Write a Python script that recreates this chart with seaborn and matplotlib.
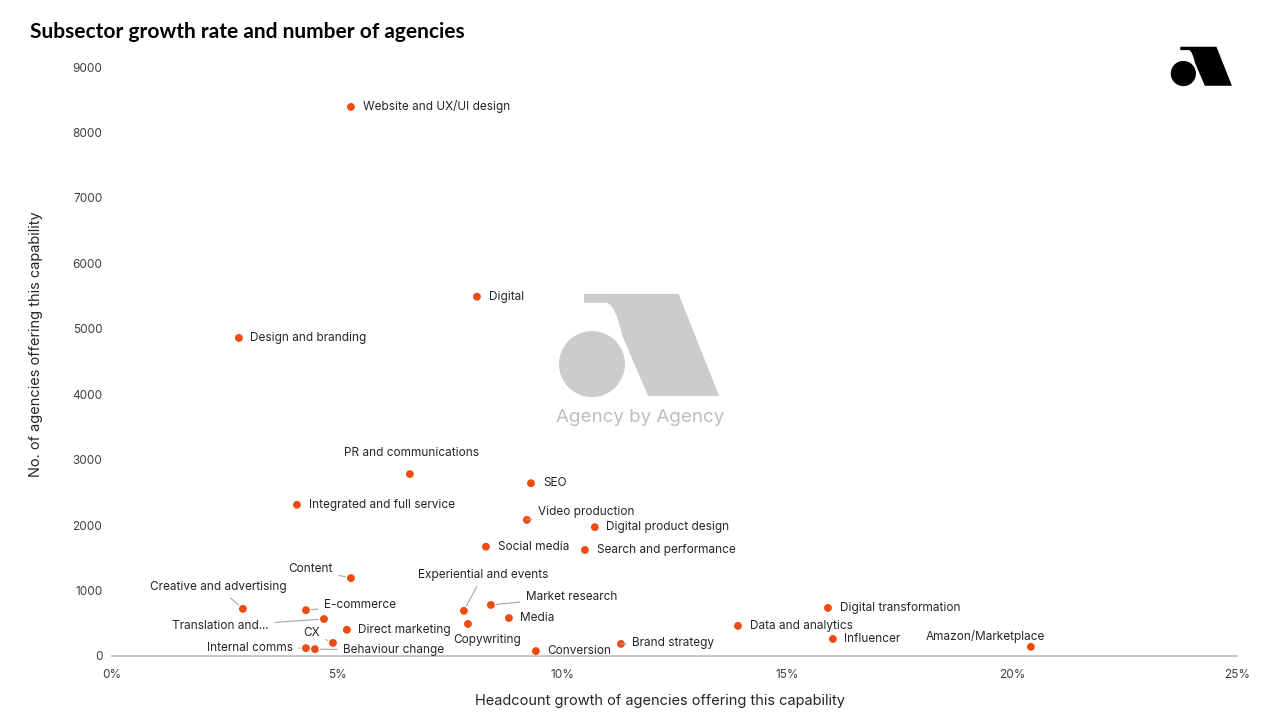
import pandas as pd
import matplotlib.pyplot as plt
import seaborn as sns
from matplotlib.patches import Circle, PathPatch
from matplotlib.path import Path
from matplotlib.ticker import FuncFormatter

# chart data
subsectors = [
    "Website and UX/UI design", "Digital", "Design and branding", "PR and communications",
    "SEO", "Integrated and full service", "Video production", "Digital product design",
    "Social media", "Search and performance", "Content", "Creative and advertising",
    "E-commerce", "Translation and...", "Direct marketing", "CX", "Internal comms",
    "Behaviour change", "Experiential and events", "Copywriting", "Market research",
    "Media", "Conversion", "Brand strategy", "Data and analytics",
    "Digital transformation", "Influencer", "Amazon/Marketplace",
]
growth = [
    0.0531, 0.0811, 0.0282, 0.0662,
    0.0931, 0.0411, 0.0922, 0.1073,
    0.0831, 0.1051, 0.0531, 0.0291,
    0.0431, 0.0471, 0.0522, 0.0491, 0.0431,
    0.0451, 0.0782, 0.0791, 0.0842,
    0.0882, 0.0942, 0.1131, 0.1391,
    0.1591, 0.1602, 0.2042,
]
agencies = [
    8390, 5490, 4860, 2780,
    2640, 2310, 2080, 1970,
    1670, 1620, 1190, 720,
    700, 565, 400, 200, 120,
    105, 690, 490, 780,
    580, 75, 185, 460,
    735, 260, 140,
]
x_ticks = [0, 0.05, 0.10, 0.15, 0.20, 0.25]
y_ticks = list(range(0, 9001, 1000))

# label placement: (dx px, dy px up, ha, leader line)
label_pos = {
    "Website and UX/UI design": (12, 0, "left", False),
    "Digital": (12, 0, "left", False),
    "Design and branding": (11, 0, "left", False),
    "PR and communications": (2, 21, "center", False),
    "SEO": (12, 0, "left", False),
    "Integrated and full service": (12, 0, "left", False),
    "Video production": (11, 8, "left", True),
    "Digital product design": (11, 0, "left", False),
    "Social media": (12, 0, "left", False),
    "Search and performance": (12, 0, "left", False),
    "Content": (-18, 9, "right", True),
    "Creative and advertising": (-25, 22, "center", True),
    "E-commerce": (18, 5, "left", True),
    "Translation and...": (-55, -7, "right", True),
    "Direct marketing": (11, 0, "left", False),
    "CX": (-13, 10, "right", True),
    "Internal comms": (-13, 0, "right", True),
    "Behaviour change": (28, -1, "left", True),
    "Experiential and events": (19, 36, "center", True),
    "Copywriting": (19, -16, "center", False),
    "Market research": (35, 8, "left", True),
    "Media": (11, 0, "left", False),
    "Conversion": (11, 0, "left", False),
    "Brand strategy": (11, 1, "left", True),
    "Data and analytics": (12, 0, "left", False),
    "Digital transformation": (12, 0, "left", False),
    "Influencer": (11, 0, "left", False),
    "Amazon/Marketplace": (-46, 10, "center", False),
}

DOT = "#EE4B14"
TEXT = "#262626"
AXIS = "#BFBFBF"


def draw_logo(ax, x0, y0, w, color):
    # logo drawn in figure pixel coords (y down), w = width of the mark
    h = w * 106 / 165

    def p(u, v):
        return (x0 + u * w, y0 + v * h)

    ax.add_patch(Circle(p(0.212, 0.68), 0.2 * w, color=color, lw=0))
    verts = [p(0.152, 0.0), p(0.745, 0.0), p(1.0, 1.0), p(0.545, 1.0),
             p(0.385, 0.42), p(0.345, 0.14), p(0.30, 0.12), p(0.152, 0.12),
             p(0.152, 0.0)]
    codes = [Path.MOVETO, Path.LINETO, Path.LINETO, Path.LINETO,
             Path.LINETO, Path.CURVE3, Path.CURVE3, Path.LINETO, Path.CLOSEPOLY]
    ax.add_patch(PathPatch(Path(verts, codes), facecolor=color,
                           edgecolor="white", lw=w / 60))


sns.set_theme(style="white")
plt.rcParams["font.family"] = ["Inter", "DejaVu Sans"]

df = pd.DataFrame({"subsector": subsectors, "growth": growth, "agencies": agencies})

fig = plt.figure(figsize=(12.8, 7.2), dpi=100)
ax = fig.add_axes([112 / 1280, 1 - 656 / 720, (1237 - 112) / 1280, (656 - 67) / 720])

sns.scatterplot(data=df, x="growth", y="agencies", ax=ax, color=DOT, s=32,
                edgecolor="none", zorder=3)

for name, gx, ay in zip(subsectors, growth, agencies):
    dx, dy, ha, line = label_pos[name]
    arrow = dict(arrowstyle="-", color="#A6A6A6", lw=0.8, shrinkA=2, shrinkB=4) if line else None
    ax.annotate(name, (gx, ay), xytext=(dx, dy), textcoords="offset pixels",
                ha=ha, va="center", fontsize=8.5, color=TEXT, arrowprops=arrow)

ax.set_xlim(0, 0.25)
ax.set_ylim(0, 9000)
ax.set_xticks(x_ticks)
ax.set_yticks(y_ticks)
ax.xaxis.set_major_formatter(FuncFormatter(lambda v, _: f"{v * 100:.0f}%"))
ax.tick_params(axis="x", length=4, color=AXIS, labelsize=8.5, labelcolor="#404040", pad=5)
ax.tick_params(axis="y", length=0, labelsize=8.5, labelcolor="#404040", pad=7)
sns.despine(ax=ax, left=True)
ax.spines["bottom"].set_color(AXIS)
ax.grid(False)
ax.set_xlabel("Headcount growth of agencies offering this capability", fontsize=10.5,
              color=TEXT)
ax.xaxis.set_label_coords(0.487, -0.065)
ax.set_ylabel("No. of agencies offering this capability", fontsize=10.5, color=TEXT)
ax.yaxis.set_label_coords(-0.061, 0.53)

fig.text(30 / 1280, 1 - 32 / 720, "Subsector growth rate and number of agencies",
         fontsize=15, fontweight="bold", family=["Lato", "DejaVu Sans"],
         color="black", ha="left", va="center")

# overlay for watermark and corner logo
ov = fig.add_axes([0, 0, 1, 1], zorder=5)
ov.set_xlim(0, 1280)
ov.set_ylim(720, 0)
ov.axis("off")
ov.patch.set_alpha(0)
draw_logo(ov, 557, 292, 165, "#CCCCCC")
ov.text(640, 417, "Agency by Agency", ha="center", va="center", fontsize=13.5,
        color="#BDBDBD")
draw_logo(ov, 1170, 46, 63, "black")

fig.savefig("out.png", dpi=100)
